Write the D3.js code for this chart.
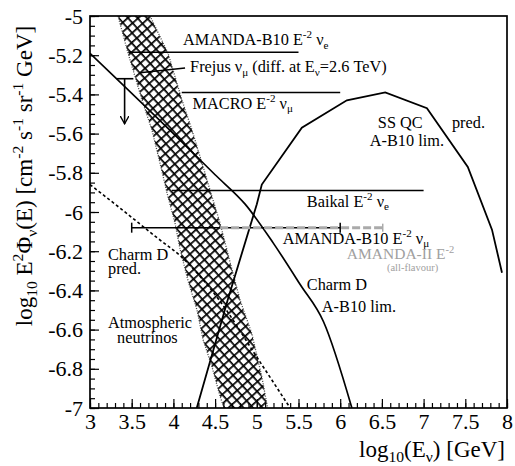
<!DOCTYPE html>
<html>
<head>
<meta charset="utf-8">
<script src="https://cdn.jsdelivr.net/npm/d3@7"></script>
<style>
  body { margin: 0; background: #fff; }
  svg { font-family: "Liberation Serif", "Times New Roman", "DejaVu Serif", serif; }
</style>
</head>
<body>
<svg id="chart" width="515" height="466"></svg>
<script>
// ---- data (log10 E in GeV, log10 E^2 Phi) ----
const xMajor = [3, 3.5, 4, 4.5, 5, 5.5, 6, 6.5, 7, 7.5, 8];
const yMajor = [-7, -6.8, -6.6, -6.4, -6.2, -6, -5.8, -5.6, -5.4, -5.2, -5];

// atmospheric neutrino band, left and right edges
const bandLeft = [[3.336,-5.0],[3.456,-5.189],[3.624,-5.429],[3.743,-5.582],[3.839,-5.75],
  [3.935,-5.923],[4.019,-6.056],[4.08,-6.19],[4.175,-6.35],[4.283,-6.5],[4.355,-6.65],
  [4.463,-6.79],[4.559,-6.94],[4.607,-7.0]];
const bandRight = [[3.72,-5.0],[3.935,-5.189],[4.103,-5.429],[4.223,-5.582],[4.343,-5.75],
  [4.439,-5.888],[4.559,-6.056],[4.679,-6.255],[4.8,-6.45],[4.94,-6.62],[5.06,-6.84],[5.13,-7.0]];

const charmLimit = [[3.0,-5.19],[4.0,-5.6],[4.5,-5.81],[4.86,-5.96],[5.2,-6.16],[5.52,-6.37],[5.8,-6.56],[6.14,-7.0]];
const charmPred = [[3.0,-5.86],[3.36,-5.98],[3.8,-6.13],[4.1,-6.23],[4.55,-6.45],[5.0,-6.74],[5.4,-7.0]];
const ssqcLimit = [[4.28,-7.0],[4.65,-6.45],[5.0,-5.96],[5.06,-5.86],[5.54,-5.57],[6.08,-5.43],
  [6.54,-5.39],[7.04,-5.47],[7.53,-5.77],[7.82,-6.09],[7.94,-6.31]];

// E^-2 limits (horizontal segments)
const limitNames = ["AMANDA-B10 nu_e", "MACRO nu_mu", "Baikal nu_e", "AMANDA-B10 nu_mu"];
const limitFrom = [3.46, 4.1, 3.98, 3.5];
const limitTo = [5.5, 6.0, 7.0, 6.0];
const limitLevel = [-5.185, -5.39, -5.89, -6.08];
const amandaII = { from: 4.56, to: 6.51, level: -6.08 };

// Frejus differential limit at 2.6 TeV
const frejus = { from: 3.32, to: 3.52, at: 3.415, level: -5.32, arrowTo: -5.55 };

const width = 515, height = 466;
const margin = { top: 16, right: 8, bottom: 58, left: 90 };

const x = d3.scaleLinear().domain([3, 8]).range([margin.left, width - margin.right]);
const y = d3.scaleLinear().domain([-7, -5]).range([height - margin.bottom, margin.top]);

const svg = d3.select("#chart");
const defs = svg.append("defs");

const hs = 7;
defs.append("pattern")
  .attr("id", "hatch")
  .attr("patternUnits", "userSpaceOnUse")
  .attr("width", hs).attr("height", hs)
  .attr("patternTransform", "rotate(48)")
  .call(p => {
    p.append("rect").attr("width", hs).attr("height", 1.7).attr("fill", "#000");
    p.append("rect").attr("width", 1.7).attr("height", hs).attr("fill", "#000");
  });

defs.append("clipPath").attr("id", "plot")
  .append("rect")
  .attr("x", margin.left).attr("y", margin.top)
  .attr("width", x(8) - x(3)).attr("height", y(-7) - y(-5));

defs.append("marker")
  .attr("id", "arrow").attr("viewBox", "0 0 10 10")
  .attr("refX", 9).attr("refY", 5)
  .attr("markerWidth", 9).attr("markerHeight", 9)
  .attr("markerUnits", "userSpaceOnUse")
  .attr("orient", "auto")
  .append("path").attr("d", "M0,0 L9,5 L0,10").attr("fill", "none")
  .attr("stroke", "#000").attr("stroke-width", 1.5);

const plot = svg.append("g").attr("clip-path", "url(#plot)");

// band
const bandPoly = bandLeft.concat(bandRight.slice().reverse());
plot.append("path")
  .attr("d", d3.line().x(d => x(d[0])).y(d => y(d[1]))(bandPoly) + "Z")
  .attr("fill", "url(#hatch)");
[bandLeft, bandRight].forEach(edge => {
  plot.append("path")
    .attr("d", d3.line().x(d => x(d[0])).y(d => y(d[1]))(edge))
    .attr("fill", "none").attr("stroke", "#444")
    .attr("stroke-width", 1.3).attr("stroke-dasharray", "1,1.5");
});

const curve = d3.line().x(d => x(d[0])).y(d => y(d[1])).curve(d3.curveMonotoneX);
const poly = d3.line().x(d => x(d[0])).y(d => y(d[1]));

plot.append("path").attr("d", curve(charmLimit))
  .attr("fill", "none").attr("stroke", "#000").attr("stroke-width", 1.7);
plot.append("path").attr("d", curve(charmPred))
  .attr("fill", "none").attr("stroke", "#000").attr("stroke-width", 1.6)
  .attr("stroke-dasharray", "3,2.5");
plot.append("path").attr("d", poly(ssqcLimit))
  .attr("fill", "none").attr("stroke", "#000").attr("stroke-width", 1.8);

// horizontal limits
plot.selectAll(".limit")
  .data(limitNames)
  .enter().append("line")
  .attr("class", "limit")
  .attr("x1", (d, i) => x(limitFrom[i]))
  .attr("x2", (d, i) => x(limitTo[i]))
  .attr("y1", (d, i) => y(limitLevel[i]))
  .attr("y2", (d, i) => y(limitLevel[i]))
  .attr("stroke", "#000").attr("stroke-width", 1.6);

// AMANDA-II (grey dashed)
plot.append("line")
  .attr("x1", x(amandaII.from)).attr("x2", x(amandaII.to))
  .attr("y1", y(amandaII.level)).attr("y2", y(amandaII.level))
  .attr("stroke", "#aaa").attr("stroke-width", 3).attr("stroke-dasharray", "8,3");
plot.append("line")
  .attr("x1", x(amandaII.to)).attr("x2", x(amandaII.to))
  .attr("y1", y(amandaII.level) - 4).attr("y2", y(amandaII.level) + 4)
  .attr("stroke", "#aaa").attr("stroke-width", 1.5);

// end caps of AMANDA-B10 nu_mu
[limitFrom[3], limitTo[3]].forEach(v => {
  plot.append("line")
    .attr("x1", x(v)).attr("x2", x(v))
    .attr("y1", y(limitLevel[3]) - 5).attr("y2", y(limitLevel[3]) + 5)
    .attr("stroke", "#000").attr("stroke-width", 1.5);
});

// Frejus
plot.append("line")
  .attr("x1", x(frejus.from)).attr("x2", x(frejus.to))
  .attr("y1", y(frejus.level)).attr("y2", y(frejus.level))
  .attr("stroke", "#000").attr("stroke-width", 1.6);
plot.append("line")
  .attr("x1", x(frejus.at)).attr("x2", x(frejus.at))
  .attr("y1", y(frejus.level)).attr("y2", y(frejus.arrowTo))
  .attr("stroke", "#000").attr("stroke-width", 1.6)
  .attr("marker-end", "url(#arrow)");
plot.append("line")
  .attr("x1", x(3.6)).attr("y1", y(-5.29))
  .attr("x2", x(4.14)).attr("y2", y(-5.265))
  .attr("stroke", "#000").attr("stroke-width", 1.5);

// axes
const fmt = d => String(+d.toFixed(1));
svg.append("g")
  .attr("transform", `translate(0,${y(-7)})`)
  .call(d3.axisBottom(x).tickValues(xMajor).tickSize(-9).tickPadding(5).tickFormat(fmt));
svg.append("g")
  .attr("transform", `translate(0,${y(-7)})`)
  .call(d3.axisBottom(x).tickValues(d3.range(30, 81).map(v => v / 10)).tickSize(-5).tickFormat(""));
svg.append("g")
  .attr("transform", `translate(${x(3)},0)`)
  .call(d3.axisLeft(y).tickValues(yMajor).tickSize(-9).tickPadding(7).tickFormat(fmt));
svg.append("g")
  .attr("transform", `translate(${x(3)},0)`)
  .call(d3.axisLeft(y).tickValues(d3.range(-140, -99).map(v => v / 20)).tickSize(-5).tickFormat(""));

svg.selectAll(".domain").remove();
svg.selectAll(".tick line").attr("stroke", "#000").attr("stroke-width", 1.2);
svg.selectAll(".tick text").attr("font-size", 22)
  .attr("font-family", "Liberation Serif, Times New Roman, serif").attr("fill", "#000");

svg.append("rect")
  .attr("x", x(3)).attr("y", y(-5))
  .attr("width", x(8) - x(3)).attr("height", y(-7) - y(-5))
  .attr("fill", "none").attr("stroke", "#000").attr("stroke-width", 1.7);

// rich text helper
function rich(g, parts, size) {
  let shift = 0;
  parts.forEach(([t, k]) => {
    const target = k === "sup" ? -0.4 * size : k === "sub" ? 0.22 * size : 0;
    g.append("tspan").attr("dy", target - shift)
      .attr("font-size", k ? size * 0.68 : size).text(t);
    shift = target;
  });
}

const labels = [
  { x: 4.115, y: -5.148, parts: [["AMANDA-B10 E", ""], ["-2", "sup"], [" ν", ""], ["e", "sub"]] },
  { x: 4.2, y: -5.286, parts: [["Frejus ν", ""], ["μ", "sub"], [" (diff. at E", ""], ["ν", "sub"], ["=2.6 TeV)", ""]] },
  { x: 4.23, y: -5.474, parts: [["MACRO E", ""], ["-2", "sup"], [" ν", ""], ["μ", "sub"]] },
  { x: 6.72, y: -5.57, anchor: "middle", parts: [["SS QC", ""]] },
  { x: 6.8, y: -5.663, anchor: "middle", parts: [["A-B10 lim.", ""]] },
  { x: 7.34, y: -5.57, parts: [["pred.", ""]] },
  { x: 5.6, y: -5.974, parts: [["Baikal E", ""], ["-2", "sup"], [" ν", ""], ["e", "sub"]] },
  { x: 5.31, y: -6.162, parts: [["AMANDA-B10 E", ""], ["-2", "sup"], [" ν", ""], ["μ", "sub"]] },
  { x: 6.08, y: -6.24, color: "#a0a0a0", size: 15.5, parts: [["AMANDA-II E", ""], ["-2", "sup"]] },
  { x: 6.56, y: -6.30, color: "#a0a0a0", size: 10.5, parts: [["(all-flavour)", ""]] },
  { x: 5.6, y: -6.398, parts: [["Charm D", ""]] },
  { x: 5.78, y: -6.51, parts: [["A-B10 lim.", ""]] },
  { x: 3.216, y: -6.245, parts: [["Charm D", ""]] },
  { x: 3.216, y: -6.318, parts: [["pred.", ""]] },
  { x: 3.216, y: -6.59, parts: [["Atmospheric", ""]] },
  { x: 3.324, y: -6.668, parts: [["neutrinos", ""]] }
];

labels.forEach(l => {
  const t = svg.append("text")
    .attr("x", x(l.x)).attr("y", y(l.y))
    .attr("text-anchor", l.anchor || "start")
    .attr("fill", l.color || "#000");
  rich(t, l.parts, l.size || 16.3);
});

// axis titles
const xt = svg.append("text").attr("x", 505).attr("y", 457)
  .attr("text-anchor", "end").attr("fill", "#000");
rich(xt, [["log", ""], ["10", "sub"], ["(E", ""], ["ν", "sub"], [") [GeV]", ""]], 23);

const yt = svg.append("text")
  .attr("transform", "translate(32,176) rotate(-90)")
  .attr("text-anchor", "middle").attr("fill", "#000");
rich(yt, [["log", ""], ["10", "sub"], [" E", ""], ["2", "sup"], ["Φ", ""], ["ν", "sub"], ["(E)  [cm", ""],
  ["-2", "sup"], [" s", ""], ["-1", "sup"], [" sr", ""], ["-1", "sup"], [" GeV]", ""]], 23);
</script>
</body>
</html>
